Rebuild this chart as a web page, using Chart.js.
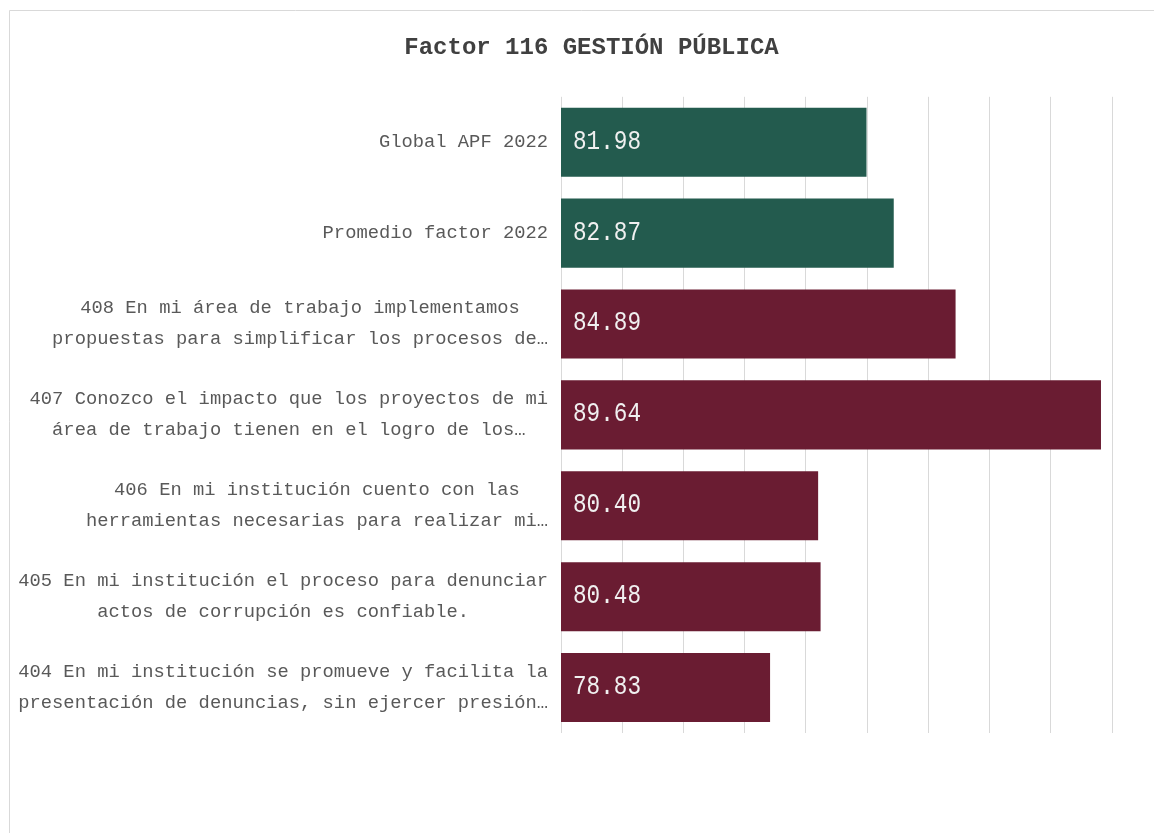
<!DOCTYPE html>
<html>
<head>
<meta charset="utf-8">
<title>Factor 116 GESTIÓN PÚBLICA</title>
<script src="https://cdn.jsdelivr.net/npm/chart.js@4"></script>
<style>
  html, body { margin: 0; padding: 0; background: #fff; }
  #wrap { width: 1154px; height: 833px; }
</style>
</head>
<body>
<div id="wrap"><canvas id="factorchart" width="1154" height="833"></canvas></div>
<script>
// reactivos del factor, cada uno ya partido en sus dos renglones
let categories = [
    ['Global APF 2022'],
    ['Promedio factor 2022'],
    ['408 En mi área de trabajo implementamos', 'propuestas para simplificar los procesos de…'],
    ['407 Conozco el impacto que los proyectos de mi', 'área de trabajo tienen en el logro de los…'],
    ['406 En mi institución cuento con las', 'herramientas necesarias para realizar mi…'],
    ['405 En mi institución el proceso para denunciar', 'actos de corrupción es confiable.'],
    ['404 En mi institución se promueve y facilita la', 'presentación de denuncias, sin ejercer presión…']
];
let scores = [81.98, 82.87, 84.89, 89.64, 80.40, 80.48, 78.83];
let axisMin = 72;
let axisMax = 90;
let axisStep = 2;

const verde = '#235b4e';
const guinda = '#6a1c32';

var ctx1 = document.getElementById('factorchart');
var factorchart

// marco gris del area del grafico
const marco = {
    id: 'marco',
    beforeDraw(chart) {
        let c = chart.ctx;
        c.save();
        c.fillStyle = '#ffffff';
        c.fillRect(0, 0, chart.width, chart.height);
        c.strokeStyle = '#d9d9d9';
        c.lineWidth = 1;
        c.beginPath();
        c.moveTo(9.5, chart.height);
        c.lineTo(9.5, 10.5);
        c.lineTo(chart.width, 10.5);
        c.stroke();
        c.restore();
    }
};

// etiquetas de categoria: bloque alineado a la derecha, renglones centrados
const etiquetas = {
    id: 'etiquetas',
    afterDraw(chart) {
        let c = chart.ctx;
        let y = chart.scales.y;
        let right = chart.chartArea.left - 13;
        c.save();
        c.font = '18.8px "Liberation Mono"';
        c.fillStyle = '#595959';
        c.textAlign = 'center';
        c.textBaseline = 'middle';
        categories.forEach(function (lines, i) {
            let w = Math.max.apply(null, lines.map(l => c.measureText(l).width));
            let cx = right - w / 2;
            let cy = y.getPixelForTick(i);
            lines.forEach(function (l, j) {
                c.fillText(l, cx, cy + (j - (lines.length - 1) / 2) * 31);
            });
        });
        c.restore();
    }
};

// valores dentro de la barra, pegados a la base
const valores = {
    id: 'valores',
    afterDatasetsDraw(chart) {
        let c = chart.ctx;
        let x = chart.scales.x;
        let meta = chart.getDatasetMeta(0);
        c.save();
        c.font = '28px "Liberation Mono"';
        c.fillStyle = '#f0f0f0';
        c.textAlign = 'left';
        c.textBaseline = 'middle';
        meta.data.forEach(function (bar, i) {
            c.save();
            c.translate(x.getPixelForValue(axisMin) + 12, bar.y - 1);
            c.scale(0.81, 1);
            c.fillText(scores[i].toFixed(2), 0, 0);
            c.restore();
        });
        c.restore();
    }
};

factorchart = new Chart(ctx1, {
    type: 'bar',
    data: {
        labels: categories,
        datasets: [{
            data: scores,
            backgroundColor: (ctx) => ctx.dataIndex < 2 ? verde : guinda,
            borderWidth: 0,
            barPercentage: 0.76,
            categoryPercentage: 1.0
        }]
    },
    options: {
        indexAxis: 'y',
        responsive: false,
        animation: false,
        layout: {
            padding: { left: 71, right: 42, top: 0, bottom: 100 }
        },
        scales: {
            x: {
                min: axisMin,
                max: axisMax,
                ticks: {
                    display: false,
                    stepSize: axisStep
                },
                grid: {
                    display: true,
                    color: '#d9d9d9',
                    lineWidth: 1,
                    drawTicks: false
                },
                border: {
                    display: false
                },
                afterFit: (scale) => { scale.height = 0; }
            },
            y: {
                ticks: {
                    display: false
                },
                grid: {
                    display: false
                },
                border: {
                    display: false
                },
                afterFit: (scale) => { scale.width = 490; }
            }
        },
        plugins: {
            title: {
                display: true,
                text: 'Factor 116 GESTIÓN PÚBLICA',
                color: '#404040',
                font: {
                    family: '"Liberation Mono"',
                    size: 24,
                    weight: 'bold'
                },
                padding: { top: 34, bottom: 34 }
            },
            legend: {
                display: false
            },
            tooltip: {
                enabled: false
            }
        }
    },
    plugins: [marco, valores, etiquetas]
});
</script>
</body>
</html>
